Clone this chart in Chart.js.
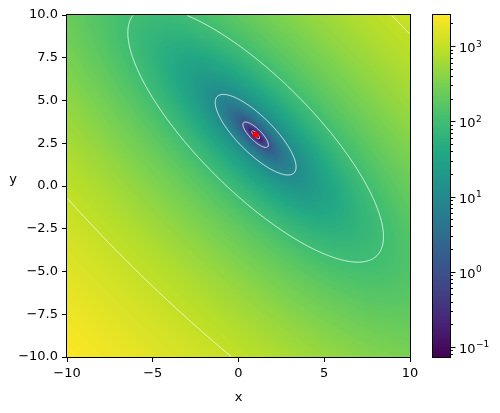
<!DOCTYPE html>
<html>
<head>
<meta charset="utf-8">
<script src="https://cdn.jsdelivr.net/npm/chart.js@4"></script>
<style>
  html, body { margin: 0; padding: 0; background: #fff; }
  #wrap { position: relative; width: 500px; height: 413px; }
  #wrap canvas { position: absolute; left: 0; top: 0; }
</style>
</head>
<body>
<div id="wrap">
  <canvas id="plot" width="500" height="413"></canvas>
  <canvas id="cbar" width="500" height="413"></canvas>
</div>
<script>
// surface values read on a coarse grid, one row per y (bottom row first)
const gridX = [-10, -8, -6, -4, -2, 0, 2, 4, 6, 8, 10];
const gridY = [-10, -8, -6, -4, -2, 0, 2, 4, 6, 8, 10];
const gridZ = [
  [2594, 2186, 1818, 1490, 1202, 954, 746, 578, 450, 362, 314],
  [2178, 1802, 1466, 1170, 914, 698, 522, 386, 290, 234, 218],
  [1802, 1458, 1154, 890, 666, 482, 338, 234, 170, 146, 162],
  [1466, 1154, 882, 650, 458, 306, 194, 122, 90, 98, 146],
  [1170, 890, 650, 450, 290, 170, 90, 50, 50, 90, 170],
  [914, 666, 458, 290, 162, 74, 26, 18, 50, 122, 234],
  [698, 482, 306, 170, 74, 18, 2, 26, 90, 194, 338],
  [522, 338, 194, 90, 26, 2, 18, 74, 170, 306, 482],
  [386, 234, 122, 50, 18, 26, 74, 162, 290, 458, 666],
  [290, 170, 90, 50, 50, 90, 170, 290, 450, 650, 890],
  [234, 146, 98, 90, 122, 194, 306, 458, 650, 882, 1154]
];
const contourLevels = [0.1, 1, 10, 100, 1000];
const minimumPoint = [{ x: 1, y: 3 }];
const xTicks = [-10, -5, 0, 5, 10];
const yTicks = [-10, -7.5, -5, -2.5, 0, 2.5, 5, 7.5, 10];
const colorMin = 0.0736;
const colorMax = 2594;
const colorTicks = [0.1, 1, 10, 100, 1000];

const FONT = "'DejaVu Sans', sans-serif";
Chart.defaults.font.family = FONT;
Chart.defaults.font.size = 13;
Chart.defaults.color = '#000';

// viridis
const viridisStops = ['#440154', '#482475', '#414487', '#355f8d', '#2a788e', '#21918c',
  '#22a884', '#44bf70', '#7ad151', '#bddf26', '#fde725'];
const stopRGB = viridisStops.map(h => [1, 3, 5].map(i => parseInt(h.substr(i, 2), 16)));
const lut = [];
for (let k = 0; k < 256; k++) {
  const t = k / 255 * (stopRGB.length - 1);
  const i = Math.min(Math.floor(t), stopRGB.length - 2);
  const f = t - i;
  lut.push(stopRGB[i].map((c, n) => Math.round(c + (stopRGB[i + 1][n] - c) * f)));
}
const lmin = Math.log10(colorMin), lmax = Math.log10(colorMax);
function colorFor(v) {
  let t = (Math.log10(Math.max(v, colorMin)) - lmin) / (lmax - lmin);
  t = Math.min(Math.max(t, 0), 1);
  return lut[Math.round(t * 255)];
}

// bicubic (Keys) resampling of the grid, edges padded by quadratic extrapolation
function keys(t) {
  t = Math.abs(t);
  if (t <= 1) return 1.5 * t * t * t - 2.5 * t * t + 1;
  if (t < 2) return -0.5 * t * t * t + 2.5 * t * t - 4 * t + 2;
  return 0;
}
const rowsP = gridZ.map(r => {
  const n = r.length;
  return [3 * r[0] - 3 * r[1] + r[2], ...r, 3 * r[n - 1] - 3 * r[n - 2] + r[n - 3]];
});
const nr = rowsP.length;
const gridP = [
  rowsP[0].map((v, i) => 3 * v - 3 * rowsP[1][i] + rowsP[2][i]),
  ...rowsP,
  rowsP[nr - 1].map((v, i) => 3 * v - 3 * rowsP[nr - 2][i] + rowsP[nr - 3][i])
];
function sampleField(x, y) {
  const gx = (x - gridX[0]) / (gridX[1] - gridX[0]);
  const gy = (y - gridY[0]) / (gridY[1] - gridY[0]);
  const i0 = Math.min(Math.max(Math.floor(gx), 0), gridX.length - 2);
  const j0 = Math.min(Math.max(Math.floor(gy), 0), gridY.length - 2);
  const tx = gx - i0, ty = gy - j0;
  const wx = [keys(1 + tx), keys(tx), keys(1 - tx), keys(2 - tx)];
  const wy = [keys(1 + ty), keys(ty), keys(1 - ty), keys(2 - ty)];
  let s = 0;
  for (let b = 0; b < 4; b++) {
    const row = gridP[j0 + b];
    let r = 0;
    for (let a = 0; a < 4; a++) r += wx[a] * row[i0 + a];
    s += wy[b] * r;
  }
  return s;
}

const heatmapPlugin = {
  id: 'heatmap',
  beforeDatasetsDraw(chart) {
    const { ctx, chartArea: a, scales: { x, y } } = chart;
    const L = Math.round(a.left), T = Math.round(a.top);
    const w = Math.round(a.right) - L, h = Math.round(a.bottom) - T;
    const vals = new Float64Array(w * h);
    const img = ctx.createImageData(w, h);
    for (let j = 0; j < h; j++) {
      const yv = y.getValueForPixel(T + j + 0.5);
      for (let i = 0; i < w; i++) {
        const v = sampleField(x.getValueForPixel(L + i + 0.5), yv);
        vals[j * w + i] = v;
        const c = colorFor(v), o = (j * w + i) * 4;
        img.data[o] = c[0]; img.data[o + 1] = c[1]; img.data[o + 2] = c[2]; img.data[o + 3] = 255;
      }
    }
    ctx.putImageData(img, L, T);

    // contour lines (marching squares on the pixel grid)
    ctx.save();
    ctx.strokeStyle = '#fff';
    ctx.lineWidth = 0.8;
    ctx.beginPath();
    for (const lev of contourLevels) {
      for (let j = 0; j < h - 1; j++) {
        for (let i = 0; i < w - 1; i++) {
          const v00 = vals[j * w + i], v10 = vals[j * w + i + 1];
          const v01 = vals[(j + 1) * w + i], v11 = vals[(j + 1) * w + i + 1];
          const pts = [];
          const px = L + i + 0.5, py = T + j + 0.5;
          if ((v00 < lev) !== (v10 < lev)) pts.push([px + (lev - v00) / (v10 - v00), py]);
          if ((v10 < lev) !== (v11 < lev)) pts.push([px + 1, py + (lev - v10) / (v11 - v10)]);
          if ((v01 < lev) !== (v11 < lev)) pts.push([px + (lev - v01) / (v11 - v01), py + 1]);
          if ((v00 < lev) !== (v01 < lev)) pts.push([px, py + (lev - v00) / (v01 - v00)]);
          for (let k = 0; k + 1 < pts.length; k += 2) {
            ctx.moveTo(pts[k][0], pts[k][1]);
            ctx.lineTo(pts[k + 1][0], pts[k + 1][1]);
          }
        }
      }
    }
    ctx.stroke();
    ctx.restore();
  },
  afterDraw(chart) {
    const { ctx, chartArea: a } = chart;
    ctx.save();
    ctx.strokeStyle = '#000';
    ctx.lineWidth = 1;
    ctx.strokeRect(Math.round(a.left) - 0.5, Math.round(a.top) - 0.5,
      Math.round(a.right) - Math.round(a.left) + 1, Math.round(a.bottom) - Math.round(a.top) + 1);
    ctx.fillStyle = '#000';
    ctx.font = '13px ' + FONT;
    ctx.textAlign = 'center';
    ctx.textBaseline = 'alphabetic';
    ctx.fillText('y', 13, 183);
    ctx.restore();
  }
};

const minus = s => s.replace('-', '\u2212');

new Chart(document.getElementById('plot'), {
  type: 'scatter',
  data: {
    datasets: [{
      data: minimumPoint,
      pointBackgroundColor: 'red',
      pointBorderWidth: 0,
      pointRadius: 3
    }]
  },
  options: {
    responsive: false,
    animation: false,
    events: [],
    layout: { padding: { top: 15, right: 90, left: 0, bottom: 0 } },
    plugins: { legend: { display: false }, tooltip: { enabled: false } },
    scales: {
      x: {
        type: 'linear', min: -10, max: 10,
        afterBuildTicks: s => { s.ticks = xTicks.map(v => ({ value: v })); },
        afterFit: s => { s.height = 56; },
        grid: { drawOnChartArea: false, tickLength: 5, color: '#000' },
        border: { display: false },
        ticks: { padding: 4, maxRotation: 0, autoSkip: false, callback: v => minus(String(v)) },
        title: { display: true, text: 'x', padding: { top: 0, bottom: 8 } }
      },
      y: {
        type: 'linear', min: -10, max: 10,
        afterBuildTicks: s => { s.ticks = yTicks.map(v => ({ value: v })); },
        afterFit: s => { s.width = 67; },
        grid: { drawOnChartArea: false, tickLength: 5, color: '#000' },
        border: { display: false },
        ticks: { padding: 4, autoSkip: false, callback: v => minus(v.toFixed(1)) }
      }
    }
  },
  plugins: [heatmapPlugin]
});

const supDigits = e => (e < 0 ? '\u2212' : '') + Math.abs(e);

const colorbarPlugin = {
  id: 'colorbar',
  afterDraw(chart) {
    const { ctx, chartArea: a, scales: { y } } = chart;
    const L = Math.round(a.left), R = Math.round(a.right);
    const T = Math.round(a.top), B = Math.round(a.bottom);
    ctx.save();
    for (let p = T; p < B; p++) {
      const c = colorFor(y.getValueForPixel(p + 0.5));
      ctx.fillStyle = `rgb(${c[0]},${c[1]},${c[2]})`;
      ctx.fillRect(L, p, R - L, 1);
    }
    ctx.strokeStyle = '#000';
    ctx.lineWidth = 1;
    ctx.strokeRect(L - 0.5, T - 0.5, R - L + 1, B - T + 1);
    // minor and major tick marks
    ctx.beginPath();
    for (let e = -2; e <= 4; e++) {
      for (let m = 1; m <= 9; m++) {
        const v = m * Math.pow(10, e);
        if (v < colorMin || v > colorMax) continue;
        const p = Math.round(y.getPixelForValue(v)) + 0.5;
        ctx.moveTo(R + 0.5, p);
        ctx.lineTo(R + 0.5 + (m === 1 ? 5 : 2.5), p);
      }
    }
    ctx.stroke();
    // labels 10^k
    ctx.fillStyle = '#000';
    ctx.textAlign = 'left';
    ctx.textBaseline = 'alphabetic';
    for (const v of colorTicks) {
      const e = Math.round(Math.log10(v));
      const p = y.getPixelForValue(v);
      ctx.font = '13px ' + FONT;
      const x0 = R + 9;
      ctx.fillText('10', x0, p + 6);
      const wBase = ctx.measureText('10').width;
      ctx.font = '9px ' + FONT;
      ctx.fillText(supDigits(e), x0 + wBase + 0.5, p + 0.5);
    }
    ctx.restore();
  }
};

new Chart(document.getElementById('cbar'), {
  type: 'scatter',
  data: { datasets: [] },
  options: {
    responsive: false,
    animation: false,
    events: [],
    layout: { padding: { left: 433, top: 15, bottom: 56, right: 0 } },
    plugins: { legend: { display: false }, tooltip: { enabled: false } },
    scales: {
      x: { display: false, min: 0, max: 1 },
      y: {
        type: 'logarithmic', position: 'right', min: colorMin, max: colorMax,
        afterFit: s => { s.width = 50; },
        ticks: { display: false },
        grid: { display: false, drawTicks: false },
        border: { display: false }
      }
    }
  },
  plugins: [colorbarPlugin]
});
</script>
</body>
</html>
